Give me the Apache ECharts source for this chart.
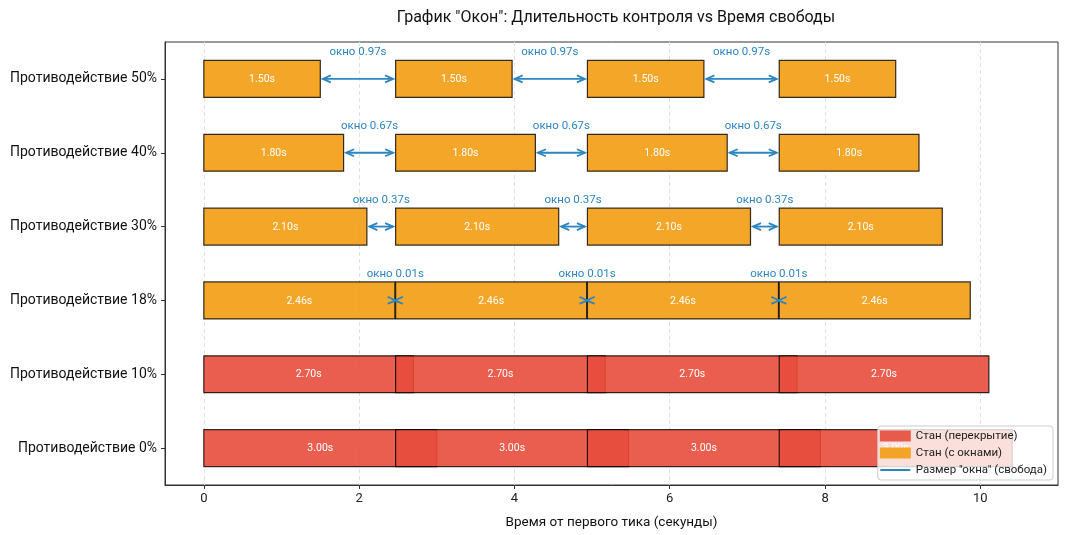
<!DOCTYPE html>
<html>
<head>
<meta charset="utf-8">
<script src="https://cdn.jsdelivr.net/npm/echarts@6/dist/echarts.min.js"></script>
<style>
  html, body { margin: 0; padding: 0; background: #fff; }
  #chart { width: 1065px; height: 535px; }
</style>
</head>
<body>
<div id="chart"></div>
<script>
// rows go bottom -> top
const rowLabels = ['Противодействие 0%', 'Противодействие 10%', 'Противодействие 18%', 'Противодействие 30%', 'Противодействие 40%', 'Противодействие 50%']
const stunDurations = [3.00, 2.70, 2.46, 2.10, 1.80, 1.50]
const windowSizes = [null, null, 0.01, 0.37, 0.67, 0.97]   // null = stun overlaps next tick
const tickStarts = [0, 2.47, 4.94, 7.41]
const xTicks = [0, 2, 4, 6, 8, 10]

const FONT = 'Roboto, "DejaVu Sans", sans-serif'
const RED = 'rgba(231,76,60,0.9)'
const ORANGE = 'rgba(243,156,18,0.9)'
const BLUE = '#2E86C1'

const overlapBars = [], windowBars = [], windowArrows = []
rowLabels.forEach((name, row) => {
  const d = stunDurations[row]
  const target = windowSizes[row] === null ? overlapBars : windowBars
  tickStarts.forEach((s, k) => {
    target.push([s, s + d, row, d])
    if (windowSizes[row] !== null && k < tickStarts.length - 1) {
      windowArrows.push([s + d, tickStarts[k + 1], row, windowSizes[row]])
    }
  })
})

function barRenderer (color) {
  return function (params, api) {
    const a = api.coord([api.value(0), api.value(2)])
    const b = api.coord([api.value(1), api.value(2)])
    const h = api.size([0, 1])[1] * 0.5
    return {
      type: 'group',
      children: [
        {
          type: 'rect',
          shape: { x: a[0], y: a[1] - h / 2, width: b[0] - a[0], height: h },
          style: { fill: color, stroke: 'rgba(0,0,0,0.8)', lineWidth: 1.2 }
        },
        {
          type: 'text',
          style: {
            x: (a[0] + b[0]) / 2, y: a[1] + 0.5,
            text: api.value(3).toFixed(2) + 's',
            fill: '#fff', align: 'center', verticalAlign: 'middle',
            font: '10.5px ' + FONT
          }
        }
      ]
    }
  }
}

function renderArrow (params, api) {
  const a = api.coord([api.value(0), api.value(2)])
  const b = api.coord([api.value(1), api.value(2)])
  const h = api.size([0, 1])[1] * 0.5
  const y = a[1]
  const shrink = (b[0] - a[0]) > 10 ? 2.5 : 0
  const x1 = a[0] + shrink, x2 = b[0] - shrink
  const hl = 8, hw = 3.5
  const lineStyle = { stroke: BLUE, lineWidth: 1.8, fill: null }
  return {
    type: 'group',
    children: [
      { type: 'line', shape: { x1: x1, y1: y, x2: x2, y2: y }, style: lineStyle },
      { type: 'polyline', shape: { points: [[x1 + hl, y - hw], [x1, y], [x1 + hl, y + hw]] }, style: lineStyle },
      { type: 'polyline', shape: { points: [[x2 - hl, y - hw], [x2, y], [x2 - hl, y + hw]] }, style: lineStyle },
      {
        type: 'text',
        style: {
          x: (a[0] + b[0]) / 2, y: y - h / 2 - 2,
          text: 'окно ' + api.value(3).toFixed(2) + 's',
          fill: BLUE, align: 'center', verticalAlign: 'bottom',
          font: '11.5px ' + FONT
        }
      }
    ]
  }
}

const chart = echarts.init(document.getElementById('chart'))
chart.setOption({
  animation: false,
  textStyle: { fontFamily: FONT },
  title: {
    text: 'График "Окон": Длительность контроля vs Время свободы',
    left: 611, top: 5, textAlign: 'center',
    textStyle: { fontSize: 16, fontWeight: 'normal', color: '#111' }
  },
  grid: {
    left: 165, right: 7, top: 42, bottom: 49,
    show: true, borderColor: '#333', borderWidth: 1
  },
  legend: {
    orient: 'vertical', right: 12, bottom: 55,
    backgroundColor: 'rgba(255,255,255,0.8)', borderColor: '#ccc', borderWidth: 1, borderRadius: 3,
    padding: [4, 6, 4, 2], itemGap: 5, itemWidth: 31, itemHeight: 11,
    textStyle: { fontSize: 11.5, color: '#222' },
    data: [
      { name: 'Стан (перекрытие)', icon: 'rect', itemStyle: { color: RED } },
      { name: 'Стан (с окнами)', icon: 'rect', itemStyle: { color: ORANGE } },
      {
        name: 'Размер "окна" (свобода)',
        icon: 'path://M0,0 L0.05,0 L0.05,0.05 Z M0,4.4 L30,4.4 L30,6.6 L0,6.6 Z M29.95,11 L30,11 L30,10.95 Z',
        itemStyle: { color: BLUE }
      }
    ]
  },
  xAxis: {
    type: 'value', min: -0.5, max: 11,
    name: 'Время от первого тика (секунды)', nameLocation: 'middle', nameGap: 31,
    nameTextStyle: { fontSize: 13.5, color: '#111' },
    axisLine: { show: true, lineStyle: { color: '#333' } },
    axisTick: { show: true, inside: false, length: 4, customValues: xTicks, lineStyle: { color: '#333' } },
    axisLabel: { customValues: xTicks, fontSize: 13, color: '#222', margin: 7 },
    splitLine: { show: true, lineStyle: { type: [4, 3], color: '#e2e2e2' } }
  },
  yAxis: {
    type: 'category', data: rowLabels,
    axisLine: { show: true, onZero: false, lineStyle: { color: '#333' } },
    axisTick: { show: true, inside: false, length: 4, alignWithLabel: true, lineStyle: { color: '#333' } },
    axisLabel: { fontSize: 14, color: '#111', margin: 8 },
    splitLine: { show: false }
  },
  series: [
    {
      name: 'Стан (перекрытие)', type: 'custom',
      renderItem: barRenderer(RED), data: overlapBars,
      encode: { x: [0, 1], y: 2 }, itemStyle: { color: RED }
    },
    {
      name: 'Стан (с окнами)', type: 'custom',
      renderItem: barRenderer(ORANGE), data: windowBars,
      encode: { x: [0, 1], y: 2 }, itemStyle: { color: ORANGE }
    },
    {
      name: 'Размер "окна" (свобода)', type: 'custom', z: 5,
      renderItem: renderArrow, data: windowArrows,
      encode: { x: [0, 1], y: 2 }, itemStyle: { color: BLUE }
    }
  ]
})
</script>
</body>
</html>
